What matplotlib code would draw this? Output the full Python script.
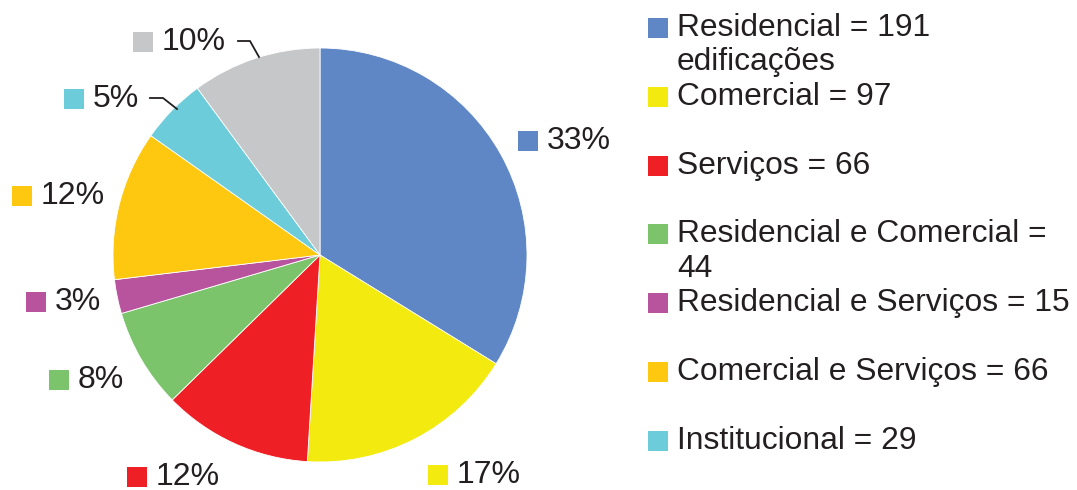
import matplotlib.pyplot as plt
from matplotlib.patches import Rectangle

plt.rcParams['font.family'] = ['Liberation Sans', 'DejaVu Sans']

# slice values (gray slice is not listed in the legend)
categories = ['Residencial', 'Comercial', 'Serviços', 'Residencial e Comercial',
              'Residencial e Serviços', 'Comercial e Serviços', 'Institucional', 'Outros']
values = [191, 97, 66, 44, 15, 66, 29, 57]
pct_labels = ['33%', '17%', '12%', '8%', '3%', '12%', '5%', '10%']
colors = ['#6087C5', '#F3EA10', '#EE1F25', '#7CC46C', '#B8539D', '#FDC80F', '#6DCCDA', '#C6C7C9']

legend_lines = [
    ['Residencial = 191', 'edificações'],
    ['Comercial = 97'],
    ['Serviços = 66'],
    ['Residencial e Comercial =', '44'],
    ['Residencial e Serviços = 15'],
    ['Comercial e Serviços = 66'],
    ['Institucional = 29'],
]

W, H = 1077, 490
fig = plt.figure(figsize=(W / 100, H / 100), dpi=100)
ax = fig.add_axes([0, 0, 1, 1])
ax.axis('off')

# pie, centre and radius in pixel units (y measured from bottom)
ax.pie(values, colors=colors, startangle=90, counterclock=False,
       center=(320, H - 255), radius=207,
       wedgeprops=dict(edgecolor='white', linewidth=0.6))
ax.set_xlim(0, W)
ax.set_ylim(0, H)
ax.set_aspect('auto')

# percentage labels: (marker left x, centre y) from top-left
label_pos = [(518, 141), (428, 475), (127, 477), (49, 380),
             (26, 302), (12, 196), (64, 99), (133, 42)]
sq = 20
for (x, y), txt, c in zip(label_pos, pct_labels, colors):
    ax.add_patch(Rectangle((x, H - y - sq / 2), sq, sq, color=c, lw=0))
    ax.text(x + sq + 9, H - y, txt, fontsize=23, va='center', ha='left', color='#231F20')

# leader lines for the two small top slices
ax.plot([150, 163, 177], [H - 98, H - 98, H - 109], color='#231F20', lw=1.3)
ax.plot([238, 250, 259], [H - 41, H - 41, H - 57], color='#231F20', lw=1.3)

# legend drawn by hand
for i, (lines, c) in enumerate(zip(legend_lines, colors)):
    yc = 28 + i * 68.8
    ax.add_patch(Rectangle((648, H - yc - 10), 20, 20, color=c, lw=0))
    for k, line in enumerate(lines):
        ax.text(677, H - (yc + k * 34.5), line, fontsize=22.9, va='center',
                ha='left', color='#231F20')

fig.savefig('out.png', dpi=100)
